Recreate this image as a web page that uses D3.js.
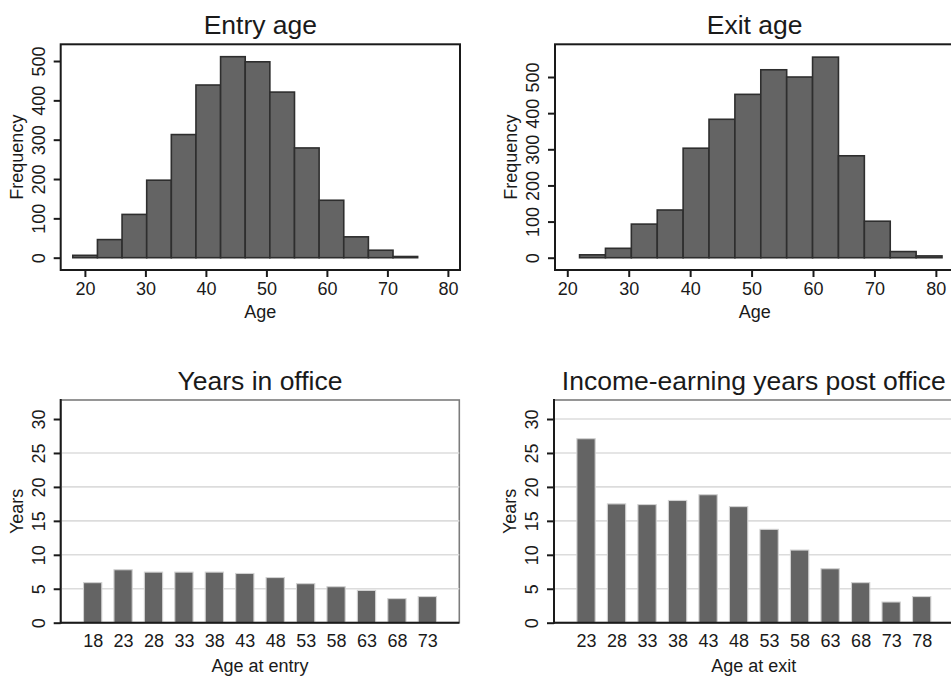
<!DOCTYPE html>
<html>
<head>
<meta charset="utf-8">
<script src="https://cdn.jsdelivr.net/npm/d3@7"></script>
<style>
  html, body { margin: 0; padding: 0; background: #fff; }
  svg { display: block; font-family: "Liberation Sans", Arial, Helvetica, sans-serif; }
</style>
</head>
<body>
<svg id="chart" width="951" height="679"></svg>
<script>
// Histogram counts (14 equal-width bins each)
const entryCounts = [6, 46, 110, 197, 313, 439, 511, 498, 421, 279, 146, 53, 19, 3];
const entryBinRange = [18, 75];
const exitCounts = [8, 26, 93, 132, 303, 383, 452, 520, 500, 555, 282, 101, 17, 5];
const exitBinRange = [22, 81];
const histXTicks = [20, 30, 40, 50, 60, 70, 80];
const histYTicks = [0, 100, 200, 300, 400, 500];

// Mean years by age group
const entryAges = ["18", "23", "28", "33", "38", "43", "48", "53", "58", "63", "68", "73"];
const yearsInOffice = [5.9, 7.8, 7.45, 7.45, 7.45, 7.25, 6.65, 5.75, 5.3, 4.75, 3.55, 3.85];
const exitAges = ["23", "28", "33", "38", "43", "48", "53", "58", "63", "68", "73", "78"];
const postOfficeYears = [27.1, 17.5, 17.4, 18.0, 18.85, 17.1, 13.75, 10.7, 7.95, 5.9, 3.05, 3.85];
const barYTicks = [0, 5, 10, 15, 20, 25, 30];

const svg = d3.select("#chart");
const FILL = "#646464";
const TICK_FONT = 18, TITLE_FONT = 26.5;

function rotateYLabels(g, offset) {
  g.selectAll(".tick text")
    .attr("x", null).attr("dy", null)
    .attr("text-anchor", "middle")
    .attr("transform", `translate(${-offset},0) rotate(-90)`)
    .attr("font-size", TICK_FONT)
    .attr("fill", "#1a1a1a");
}

function styleAxis(g, color) {
  g.select(".domain").remove();
  g.selectAll(".tick line").attr("stroke", color || "#1a1a1a").attr("stroke-width", 2);
  g.attr("font-family", null);
}

function histogram(opt) {
  const { left, top, width, height, xDomain, yDomain, counts, binRange, title, xLabel, yLabel } = opt;
  const g = svg.append("g");
  const x = d3.scaleLinear().domain(xDomain).range([left, left + width]);
  const y = d3.scaleLinear().domain(yDomain).range([top + height, top]);

  const n = counts.length;
  const w = (binRange[1] - binRange[0]) / n;
  const bins = counts.map((c, i) => ({ x0: binRange[0] + i * w, x1: binRange[0] + (i + 1) * w, c }));

  g.selectAll("rect.bin").data(bins).join("rect")
    .attr("class", "bin")
    .attr("x", d => x(d.x0))
    .attr("width", d => x(d.x1) - x(d.x0))
    .attr("y", d => y(d.c))
    .attr("height", d => y(0) - y(d.c))
    .attr("fill", FILL)
    .attr("stroke", "#2e2e2e")
    .attr("stroke-width", 1.6);

  // frame
  g.append("rect")
    .attr("x", left).attr("y", top).attr("width", width).attr("height", height)
    .attr("fill", "none").attr("stroke", "#1a1a1a").attr("stroke-width", 2);

  const ax = g.append("g").attr("transform", `translate(0,${top + height})`)
    .call(d3.axisBottom(x).tickValues(histXTicks).tickSize(7).tickPadding(5).tickSizeOuter(0));
  styleAxis(ax);
  ax.selectAll(".tick text").attr("font-size", TICK_FONT).attr("fill", "#1a1a1a").attr("dy", "0.71em");

  const ay = g.append("g").attr("transform", `translate(${left},0)`)
    .call(d3.axisLeft(y).tickValues(histYTicks).tickSize(7).tickSizeOuter(0));
  styleAxis(ay);
  rotateYLabels(ay, 15.7);

  g.append("text").attr("x", left + width / 2).attr("y", 34.3)
    .attr("text-anchor", "middle").attr("font-size", TITLE_FONT).attr("fill", "#1a1a1a").text(title);
  g.append("text").attr("x", left + width / 2).attr("y", top + height + 47.5)
    .attr("text-anchor", "middle").attr("font-size", TICK_FONT).attr("fill", "#1a1a1a").text(xLabel);
  g.append("text")
    .attr("transform", `translate(${left - 38},${top + height / 2}) rotate(-90)`)
    .attr("text-anchor", "middle").attr("font-size", TICK_FONT).attr("fill", "#1a1a1a").text(yLabel);
}

function barPanel(opt) {
  const { left, top, width, height, cats, values, title, xLabel, yLabel, gridTicks } = opt;
  const g = svg.append("g");
  const x = d3.scalePoint().domain(cats).range([left, left + width]).padding(1.05);
  const y = d3.scaleLinear().domain([0, 32.8]).range([top + height, top]);
  const bw = x.step() * 0.6;

  // frame (top and right lighter)
  g.append("rect")
    .attr("x", left).attr("y", top).attr("width", width).attr("height", height)
    .attr("fill", "none").attr("stroke", "#7c7c7c").attr("stroke-width", 1.6);

  g.selectAll("line.grid").data(gridTicks).join("line")
    .attr("class", "grid")
    .attr("x1", left + 1).attr("x2", left + width)
    .attr("y1", d => y(d)).attr("y2", d => y(d))
    .attr("stroke", "#dcdcdc").attr("stroke-width", 1.6);

  g.selectAll("rect.bar").data(values).join("rect")
    .attr("class", "bar")
    .attr("x", (d, i) => x(cats[i]) - bw / 2)
    .attr("width", bw)
    .attr("y", d => y(d))
    .attr("height", d => y(0) - y(d))
    .attr("fill", FILL)
    .attr("stroke", "#d2d2d2")
    .attr("stroke-width", 1.1);

  // left and bottom axis lines
  g.append("line").attr("x1", left).attr("x2", left).attr("y1", top - 1).attr("y2", top + height + 1)
    .attr("stroke", "#1a1a1a").attr("stroke-width", 2);
  g.append("line").attr("x1", left).attr("x2", left + width).attr("y1", top + height).attr("y2", top + height)
    .attr("stroke", "#1a1a1a").attr("stroke-width", 2);

  const ax = g.append("g").attr("transform", `translate(0,${top + height})`)
    .call(d3.axisBottom(x).tickSize(0).tickPadding(12).tickSizeOuter(0));
  styleAxis(ax);
  ax.selectAll(".tick text").attr("font-size", TICK_FONT).attr("fill", "#1a1a1a").attr("dy", "0.71em");

  const ay = g.append("g").attr("transform", `translate(${left},0)`)
    .call(d3.axisLeft(y).tickValues(barYTicks).tickSize(7).tickSizeOuter(0));
  styleAxis(ay);
  rotateYLabels(ay, 15.7);

  g.append("text").attr("x", left + width / 2).attr("y", 390)
    .attr("text-anchor", "middle").attr("font-size", TITLE_FONT).attr("fill", "#1a1a1a").text(title);
  g.append("text").attr("x", left + width / 2).attr("y", top + height + 49)
    .attr("text-anchor", "middle").attr("font-size", TICK_FONT).attr("fill", "#1a1a1a").text(xLabel);
  g.append("text")
    .attr("transform", `translate(${left - 38},${top + height / 2}) rotate(-90)`)
    .attr("text-anchor", "middle").attr("font-size", TICK_FONT).attr("fill", "#1a1a1a").text(yLabel);
}

histogram({
  left: 60.7, top: 44.3, width: 399.3, height: 225.7,
  xDomain: [16, 82], yDomain: [-31.3, 542.5],
  counts: entryCounts, binRange: entryBinRange,
  title: "Entry age", xLabel: "Age", yLabel: "Frequency"
});

histogram({
  left: 555, top: 44.3, width: 399.3, height: 225.7,
  xDomain: [18, 83], yDomain: [-34, 590.5],
  counts: exitCounts, binRange: exitBinRange,
  title: "Exit age", xLabel: "Age", yLabel: "Frequency"
});

barPanel({
  left: 60.7, top: 400, width: 398.6, height: 222.7,
  cats: entryAges, values: yearsInOffice, gridTicks: [5, 10, 15, 20, 25],
  title: "Years in office", xLabel: "Age at entry", yLabel: "Years"
});

barPanel({
  left: 554, top: 400, width: 399.7, height: 222.7,
  cats: exitAges, values: postOfficeYears, gridTicks: [5, 10, 15, 20, 25, 30],
  title: "Income-earning years post office", xLabel: "Age at exit", yLabel: "Years"
});
</script>
</body>
</html>
